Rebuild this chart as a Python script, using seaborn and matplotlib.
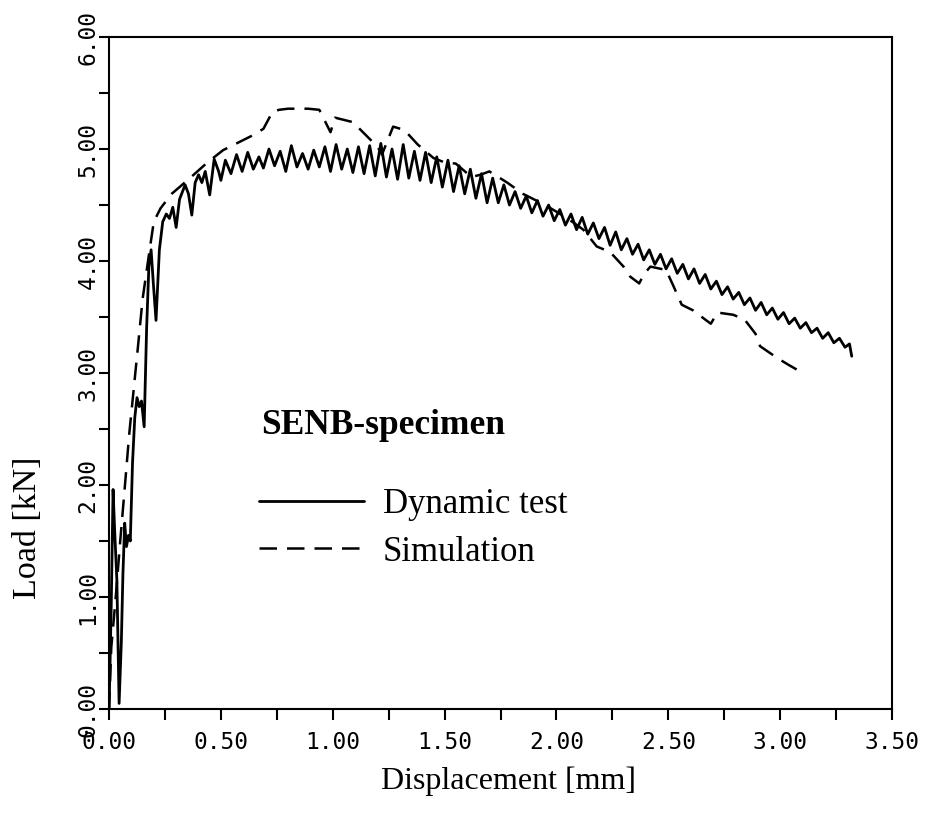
import numpy as np
import pandas as pd
import matplotlib
matplotlib.use("Agg")
import matplotlib.pyplot as plt
from matplotlib.ticker import MultipleLocator, FormatStrFormatter
from matplotlib.lines import Line2D
import seaborn as sns

# DATA
# Dynamic test (measured, solid line)
test_disp = [0.0, 0.005, 0.01, 0.018, 0.025, 0.035, 0.045, 0.055, 0.062, 0.07,
             0.078, 0.087, 0.095, 0.105, 0.115, 0.125, 0.135, 0.145, 0.157, 0.168,
             0.178, 0.188, 0.198, 0.21, 0.225, 0.24, 0.256, 0.27, 0.285, 0.30,
             0.315, 0.34, 0.355, 0.37, 0.385, 0.40, 0.415, 0.43, 0.45, 0.47,
             0.49, 0.50, 0.52, 0.545, 0.57, 0.595, 0.62, 0.645, 0.67, 0.69,
             0.715, 0.74, 0.765, 0.79, 0.815, 0.84, 0.865, 0.89, 0.915, 0.94,
             0.965, 0.99, 1.015, 1.04, 1.065, 1.09, 1.115, 1.14, 1.165, 1.19,
             1.215, 1.24, 1.265, 1.29, 1.315, 1.34, 1.365, 1.39, 1.415, 1.44,
             1.465, 1.49, 1.515, 1.54, 1.565, 1.59, 1.615, 1.64, 1.665, 1.69,
             1.715, 1.74, 1.765, 1.79, 1.815, 1.84, 1.865, 1.89, 1.915, 1.94,
             1.965, 1.99, 2.015, 2.04, 2.065, 2.09, 2.115, 2.14, 2.165, 2.19,
             2.215, 2.24, 2.265, 2.29, 2.315, 2.34, 2.365, 2.39, 2.415, 2.44,
             2.465, 2.49, 2.515, 2.54, 2.565, 2.59, 2.615, 2.64, 2.665, 2.69,
             2.715, 2.74, 2.765, 2.79, 2.815, 2.84, 2.865, 2.89, 2.915, 2.94,
             2.965, 2.99, 3.015, 3.04, 3.065, 3.09, 3.115, 3.14, 3.165, 3.19,
             3.215, 3.24, 3.265, 3.29, 3.31, 3.32]
test_load = [0.0, 0.45, 0.95, 1.96, 1.6, 1.15, 0.05, 0.6, 1.2, 1.66,
             1.45, 1.55, 1.5, 2.2, 2.6, 2.78, 2.7, 2.75, 2.52, 3.4,
             3.95, 4.1, 3.8, 3.47, 4.1, 4.35, 4.42, 4.38, 4.48, 4.3,
             4.55, 4.68, 4.6, 4.41, 4.7, 4.77, 4.7, 4.8, 4.59, 4.91,
             4.8, 4.72, 4.9, 4.78, 4.95, 4.8, 4.97, 4.82, 4.93, 4.83,
             5.0, 4.85, 4.98, 4.8, 5.03, 4.84, 4.96, 4.82, 4.99, 4.84,
             5.02, 4.8, 5.04, 4.82, 5.0, 4.79, 5.02, 4.78, 5.03, 4.76,
             5.05, 4.75, 5.0, 4.73, 5.04, 4.74, 4.98, 4.72, 4.97, 4.7,
             4.93, 4.66, 4.9, 4.62, 4.85, 4.6, 4.82, 4.56, 4.78, 4.52,
             4.74, 4.52, 4.68, 4.5, 4.62, 4.47, 4.58, 4.43, 4.54, 4.4,
             4.5, 4.36, 4.46, 4.32, 4.42, 4.28, 4.39, 4.24, 4.34, 4.2,
             4.3, 4.14, 4.26, 4.1, 4.2, 4.06, 4.15, 4.01, 4.1, 3.97,
             4.06, 3.93, 4.02, 3.89, 3.97, 3.84, 3.93, 3.8, 3.88, 3.75,
             3.82, 3.7, 3.77, 3.66, 3.72, 3.61, 3.67, 3.56, 3.63, 3.52,
             3.58, 3.48, 3.54, 3.44, 3.49, 3.4, 3.45, 3.36, 3.4, 3.31,
             3.36, 3.27, 3.31, 3.23, 3.26, 3.15]

# Simulation (dashed line)
sim_disp = [0.0, 0.01, 0.03, 0.05, 0.07, 0.09, 0.11, 0.13, 0.15, 0.18,
            0.20, 0.23, 0.28, 0.35, 0.44, 0.51, 0.56, 0.64, 0.69, 0.73,
            0.76, 0.80, 0.89, 0.94, 0.99, 1.01, 1.09, 1.13, 1.20, 1.22,
            1.27, 1.32, 1.38, 1.45, 1.50, 1.55, 1.62, 1.66, 1.70, 1.78,
            1.85, 1.95, 2.05, 2.12, 2.18, 2.24, 2.30, 2.33, 2.37, 2.39,
            2.42, 2.49, 2.52, 2.56, 2.61, 2.69, 2.72, 2.79, 2.84, 2.89,
            2.91, 2.99, 3.04, 3.11]
sim_load = [0.0, 0.55, 1.0, 1.5, 1.97, 2.45, 2.85, 3.25, 3.66, 4.08,
            4.35, 4.47, 4.6, 4.72, 4.88, 4.99, 5.04, 5.12, 5.18, 5.33,
            5.35, 5.36, 5.36, 5.35, 5.15, 5.28, 5.24, 5.16, 5.02, 4.95,
            5.2, 5.17, 5.04, 4.92, 4.88, 4.87, 4.75, 4.77, 4.8, 4.7,
            4.6, 4.5, 4.38, 4.28, 4.13, 4.08, 3.95, 3.86, 3.8, 3.88,
            3.95, 3.92, 3.79, 3.61, 3.56, 3.44, 3.54, 3.52, 3.48, 3.35,
            3.24, 3.13, 3.07, 2.99]

series_names = ["Dynamic test", "Simulation"]
legend_title = "SENB-specimen"

df_test = pd.DataFrame({"disp": test_disp, "load": test_load})
df_sim = pd.DataFrame({"disp": sim_disp, "load": sim_load})

sns.set_style("ticks")
plt.rcParams["font.family"] = ["Liberation Serif", "DejaVu Serif"]
for key in ["text.color", "axes.labelcolor", "xtick.color", "ytick.color", "axes.edgecolor"]:
    plt.rcParams[key] = "black"

fig = plt.figure(figsize=(9.28, 8.19), dpi=100)
ax = fig.add_axes([0.1175, 0.1343, 0.8437, 0.8205])

sns.lineplot(data=df_test, x="disp", y="load", ax=ax, color="black",
             linewidth=2.0, sort=False, estimator=None)
sns.lineplot(data=df_sim, x="disp", y="load", ax=ax, color="black",
             linewidth=1.8, sort=False, estimator=None)
ax.lines[-1].set_dashes((7, 4))

ax.set_xlim(0, 3.5)
ax.set_ylim(0, 6)

ax.xaxis.set_major_locator(MultipleLocator(0.5))
ax.xaxis.set_minor_locator(MultipleLocator(0.25))
ax.yaxis.set_major_locator(MultipleLocator(1.0))
ax.yaxis.set_minor_locator(MultipleLocator(0.5))
ax.xaxis.set_major_formatter(FormatStrFormatter("%.2f"))
ax.yaxis.set_major_formatter(FormatStrFormatter("%.2f"))

ax.tick_params(which="both", direction="out", width=1.5, color="black")
ax.tick_params(axis="x", which="both", length=8)
ax.tick_params(axis="y", which="both", length=7)
ax.tick_params(axis="x", labelsize=16.5, pad=8)
ax.tick_params(axis="y", labelsize=16.5, pad=0)
for lab in ax.get_xticklabels() + ax.get_yticklabels():
    lab.set_family(["DejaVu Sans Mono"])
for lab in ax.get_yticklabels():
    lab.set_rotation(90)
    lab.set_va("center")

for sp in ax.spines.values():
    sp.set_visible(True)
    sp.set_linewidth(1.5)
    sp.set_color("black")

ax.set_xlabel("Displacement [mm]", fontsize=23)
ax.set_ylabel("Load [kN]", fontsize=24.5)
ax.xaxis.set_label_coords(0.51, -0.085)
ax.yaxis.set_label_coords(-0.084, 0.27)

# legend
ax.text(0.194, 0.4226, legend_title, transform=ax.transAxes, fontsize=25.5,
        fontweight="bold", va="center", ha="left")
handles = [Line2D([], [], color="black", linewidth=2.0),
           Line2D([], [], color="black", linewidth=1.8, dashes=(7, 4))]
leg = ax.legend(handles, series_names, loc="upper left",
                bbox_to_anchor=(0.192, 0.329), frameon=False, fontsize=25,
                handlelength=3.0, handletextpad=0.55, labelspacing=0.42,
                borderpad=0, borderaxespad=0)

fig.savefig("out.png", dpi=100, facecolor="white")
